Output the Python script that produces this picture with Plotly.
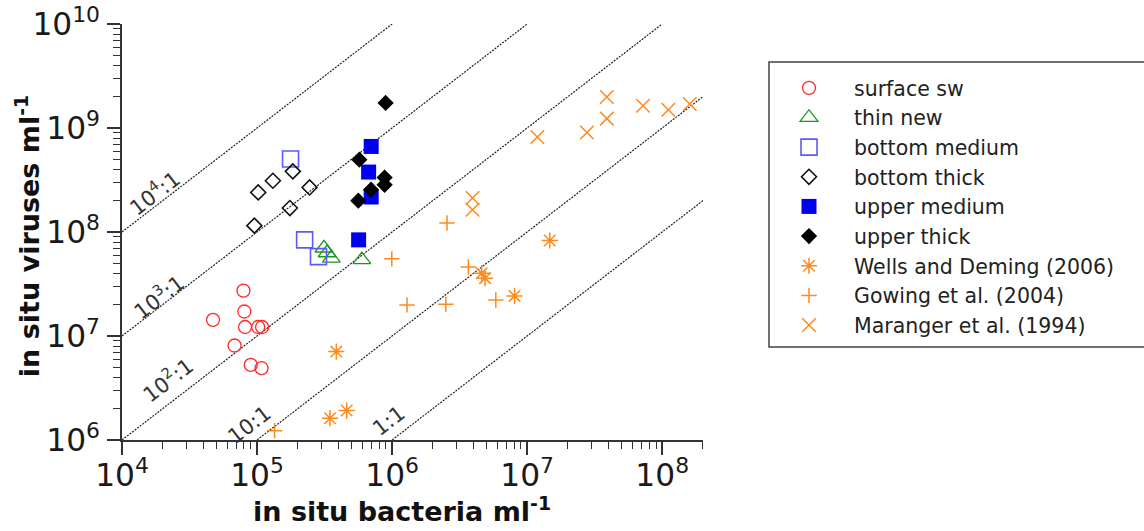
import plotly.graph_objects as go

# ---- data: bacteria (x) and virus (y) abundances, per ml ----
surface_sw_bact = [4.72e4, 7.93e4, 8.05e4, 8.15e4, 6.81e4, 8.98e4, 1.08e5, 1.02e5, 1.09e5]
surface_sw_vir = [1.43e7, 2.73e7, 1.72e7, 1.22e7, 8.1e6, 5.27e6, 4.9e6, 1.22e7, 1.22e7]

thin_new_bact = [3.13e5, 3.3e5, 3.55e5, 5.97e5]
thin_new_vir = [7.0e7, 6.3e7, 5.6e7, 5.4e7]

bottom_medium_bact = [1.77e5, 2.25e5, 2.85e5]
bottom_medium_vir = [5.04e8, 8.4e7, 5.8e7]

bottom_thick_bact = [1.02e5, 1.31e5, 1.84e5, 2.45e5, 1.75e5, 9.55e4]
bottom_thick_vir = [2.4e8, 3.11e8, 3.83e8, 2.68e8, 1.7e8, 1.15e8]

upper_medium_bact = [7.0e5, 6.7e5, 7.0e5, 5.65e5]
upper_medium_vir = [6.65e8, 3.77e8, 2.17e8, 8.4e7]

upper_thick_bact = [8.95e5, 5.72e5, 8.8e5, 8.8e5, 6.98e5, 5.62e5]
upper_thick_vir = [1.74e9, 4.96e8, 3.34e8, 2.84e8, 2.55e8, 2.0e8]

wells_bact = [3.86e5, 3.47e5, 4.61e5, 1.47e7, 4.61e6, 4.88e6, 8.07e6]
wells_vir = [7.08e6, 1.62e6, 1.92e6, 8.28e7, 4.02e7, 3.6e7, 2.43e7]

gowing_bact = [1.35e5, 2.55e6, 9.95e5, 3.67e6, 1.29e6, 2.5e6, 5.86e6]
gowing_vir = [1.23e6, 1.22e8, 5.52e7, 4.6e7, 1.99e7, 2.02e7, 2.22e7]

maranger_bact = [1.19e7, 2.77e7, 3.89e7, 3.89e7, 7.2e7, 1.11e8, 1.6e8, 3.94e6, 3.94e6]
maranger_vir = [8.18e8, 9.07e8, 1.23e9, 1.99e9, 1.64e9, 1.5e9, 1.7e9, 2.12e8, 1.64e8]

# virus-to-bacteria ratio reference lines and their labels
ratios = [1e4, 1e3, 1e2, 10, 1]
ratio_labels = ["10<sup>4</sup>:1", "10<sup>3</sup>:1", "10<sup>2</sup>:1", "10:1", "1:1"]
ratio_label_pos = [(4.24, 8.38), (4.27, 7.386), (4.337, 6.587), (4.944, 6.144), (5.974, 6.183)]

X_LOG_RANGE = [4, 8.302]
Y_LOG_RANGE = [6, 10]

FONT = "DejaVu Sans"
ORANGE = "#ff8a1c"

fig = go.Figure()

# ratio lines spanning the visible axis ranges
x_lo, x_hi = 10 ** X_LOG_RANGE[0], 10 ** X_LOG_RANGE[1]
y_lo, y_hi = 10 ** Y_LOG_RANGE[0], 10 ** Y_LOG_RANGE[1]
for r in ratios:
    x0 = max(x_lo, y_lo / r)
    x1 = min(x_hi, y_hi / r)
    fig.add_trace(go.Scatter(
        x=[x0, x1], y=[x0 * r, x1 * r], mode="lines",
        line=dict(color="#222222", width=1.2, dash="2px,1.2px"),
        showlegend=False, hoverinfo="skip",
    ))

series = [
    ("surface sw", surface_sw_bact, surface_sw_vir,
     dict(symbol="circle-open", size=13, color="#ff2b2b", line=dict(width=1.3, color="#ff2b2b"))),
    ("thin new", thin_new_bact, thin_new_vir,
     dict(symbol="triangle-up-open", size=15.5, color="#1f961f", line=dict(width=1.3, color="#1f961f"))),
    ("bottom medium", bottom_medium_bact, bottom_medium_vir,
     dict(symbol="square-open", size=16, color="#5a5aff", line=dict(width=1.6, color="#5a5aff"))),
    ("bottom thick", bottom_thick_bact, bottom_thick_vir,
     dict(symbol="diamond-open", size=11.5, color="#111111", line=dict(width=1.6, color="#111111"))),
    ("upper medium", upper_medium_bact, upper_medium_vir,
     dict(symbol="square", size=15, color="#0000f0", line=dict(width=0))),
    ("upper thick", upper_thick_bact, upper_thick_vir,
     dict(symbol="diamond", size=12.5, color="#000000", line=dict(width=0))),
    ("Wells and Deming (2006)", wells_bact, wells_vir,
     dict(symbol="asterisk-open", size=13.5, color=ORANGE, line=dict(width=1.5, color=ORANGE))),
    ("Gowing et al. (2004)", gowing_bact, gowing_vir,
     dict(symbol="cross-thin-open", size=11, color=ORANGE, line=dict(width=1.5, color=ORANGE))),
    ("Maranger et al. (1994)", maranger_bact, maranger_vir,
     dict(symbol="x-thin-open", size=13.5, color=ORANGE, line=dict(width=1.5, color=ORANGE))),
]
for name, xs, ys, marker in series:
    fig.add_trace(go.Scatter(x=xs, y=ys, mode="markers", name=name, marker=marker))

# ratio line labels, rotated along the lines
annotations = []
for label, (lx, ly) in zip(ratio_labels, ratio_label_pos):
    annotations.append(dict(
        x=lx, y=ly, xref="x", yref="y", text=label, showarrow=False,
        textangle=-37.5, font=dict(family=FONT, size=21, color="#333333"),
        xanchor="center", yanchor="middle",
    ))

# axis titles
annotations.append(dict(
    x=0.4811, y=-0.168, xref="paper", yref="paper",
    text="<b>in situ bacteria ml<sup>-1</sup></b>", showarrow=False,
    font=dict(family=FONT, size=27, color="#111111"),
    xanchor="center", yanchor="middle",
))
annotations.append(dict(
    x=-0.1635, y=0.490, xref="paper", yref="paper",
    text="<b>in situ viruses ml<sup>-1</sup></b>", showarrow=False,
    textangle=-90, font=dict(family=FONT, size=27, color="#111111"),
    xanchor="center", yanchor="middle",
))

axis_common = dict(
    type="log", dtick=1, exponentformat="power", showgrid=False, zeroline=False,
    showline=True, linecolor="#333333", linewidth=2, automargin=False,
    ticks="outside", ticklen=13, tickwidth=1.5, tickcolor="#333333",
    tickfont=dict(family=FONT, size=25, color="#1a1a1a"),
    minor=dict(ticks="outside", ticklen=7, tickwidth=1.2, tickcolor="#333333",
               dtick="D1", showgrid=False),
)

ML, MR, MT, MB = 122, 441, 24, 91
PW = 1144 - ML - MR
PH = 531 - MT - MB


def px_to_paper_x(px):
    return (px - ML) / PW


def px_to_paper_y(py):
    return (531 - MB - py) / PH


# legend frame (extends past the right edge of the canvas)
shapes = [dict(
    type="rect", xref="paper", yref="paper",
    x0=px_to_paper_x(769), x1=px_to_paper_x(1170),
    y0=px_to_paper_y(347), y1=px_to_paper_y(62),
    line=dict(color="#444444", width=1.5), fillcolor="rgba(0,0,0,0)",
)]

fig.update_layout(
    width=1144, height=531,
    margin=dict(l=ML, r=MR, t=MT, b=MB, autoexpand=False),
    paper_bgcolor="white", plot_bgcolor="white",
    xaxis=dict(range=X_LOG_RANGE, ticklabelstandoff=-5, **axis_common),
    yaxis=dict(range=Y_LOG_RANGE, ticklabelstandoff=2, **axis_common),
    showlegend=True,
    legend=dict(
        x=px_to_paper_x(764), y=px_to_paper_y(68), xanchor="left", yanchor="top",
        bgcolor="rgba(0,0,0,0)", borderwidth=0, itemwidth=80,
        font=dict(family=FONT, size=20.5, color="#222222"),
    ),
    annotations=annotations,
    shapes=shapes,
)

fig.write_html("out.html")
